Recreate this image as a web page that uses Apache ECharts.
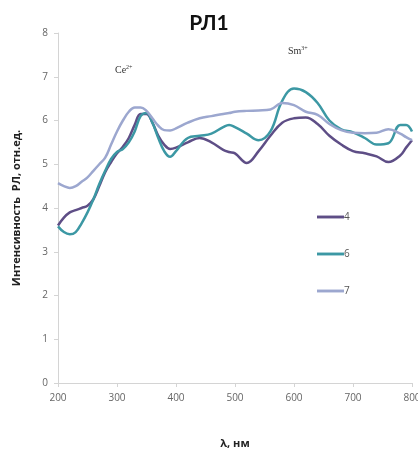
<!DOCTYPE html>
<html><head><meta charset="utf-8">
<script src="https://cdn.jsdelivr.net/npm/echarts@6/dist/echarts.min.js"></script>
<style>html,body{margin:0;padding:0;background:#fff}#c{width:418px;height:450px}</style>
</head><body><div id="c"></div>
<script>
const wavelengths = [200,210,220,230,240,250,260,270,280,290,300,310,320,330,340,350,360,370,380,390,400,420,440,460,480,490,500,520,540,560,580,600,620,640,660,680,700,720,740,760,780,790,800];
const s4 = [3.6,3.78,3.9,3.95,4.0,4.05,4.2,4.5,4.82,5.05,5.25,5.4,5.6,5.9,6.15,6.15,5.95,5.65,5.45,5.35,5.38,5.5,5.6,5.5,5.33,5.28,5.25,5.03,5.3,5.65,5.95,6.05,6.07,5.92,5.65,5.45,5.3,5.25,5.18,5.05,5.2,5.38,5.55];
const s6 = [3.58,3.45,3.4,3.45,3.65,3.9,4.2,4.55,4.85,5.12,5.28,5.35,5.5,5.75,6.1,6.17,5.95,5.6,5.3,5.17,5.3,5.6,5.65,5.7,5.85,5.9,5.85,5.7,5.55,5.75,6.45,6.73,6.65,6.4,6.0,5.8,5.73,5.6,5.45,5.48,5.9,5.9,5.75];
const s7 = [4.57,4.5,4.46,4.5,4.6,4.7,4.85,5.0,5.15,5.45,5.75,6.0,6.2,6.3,6.3,6.22,6.05,5.88,5.78,5.77,5.82,5.95,6.05,6.1,6.15,6.17,6.2,6.22,6.23,6.25,6.4,6.35,6.2,6.13,5.92,5.78,5.72,5.71,5.72,5.8,5.7,5.62,5.55];
const seriesNames = ['4','6','7'];
const colors = ['#5E4E86','#3C98A4','#9CA7CF'];
const xTicks = [200,300,400,500,600,700,800];
const yTicks = [0,1,2,3,4,5,6,7,8];

const zip = (ys) => wavelengths.map((w,i)=>[w,ys[i]]);
const chart = echarts.init(document.getElementById('c'));
chart.setOption({
  animation:false,
  title:{text:'РЛ1',left:204,top:8,textAlign:'center',textStyle:{fontFamily:'Lato',fontSize:21,fontWeight:'bold',color:'#111'}},
  grid:{left:58,right:6,top:33,bottom:67,containLabel:false,outerBoundsMode:'none'},
  legend:{orient:'vertical',left:312,top:205,itemWidth:27,itemHeight:14,itemGap:23,
    icon:'path://M0,6 L28,6 L28,9 L0,9 Z',
    textStyle:{fontFamily:'Open Sans',fontSize:10,color:'#555',padding:[0,0,0,-5],lineHeight:14},
    data:seriesNames},
  xAxis:{type:'value',min:xTicks[0],max:xTicks[xTicks.length-1],interval:100,
    name:'λ, нм',nameLocation:'middle',nameGap:55,
    nameTextStyle:{fontFamily:'Open Sans',fontSize:11,fontWeight:'bold',color:'#222'},
    axisLine:{show:true,lineStyle:{color:'#D4D4D4'}},
    axisTick:{show:true,inside:false,length:4,lineStyle:{color:'#D4D4D4'}},
    axisLabel:{fontFamily:'Open Sans',fontSize:10,color:'#666',margin:10},
    splitLine:{show:false}},
  yAxis:{type:'value',min:yTicks[0],max:yTicks[yTicks.length-1],interval:1,
    name:'Интенсивность  РЛ, отн.ед.',nameLocation:'middle',nameGap:36,
    nameTextStyle:{fontFamily:'Open Sans',fontSize:11,fontWeight:'bold',color:'#222'},
    axisLine:{show:true,lineStyle:{color:'#D4D4D4'}},
    axisTick:{show:true,inside:false,length:4,lineStyle:{color:'#D4D4D4'}},
    axisLabel:{fontFamily:'Open Sans',fontSize:10,color:'#666',margin:10},
    splitLine:{show:false}},
  graphic:[
    {type:'text',left:115,top:64,style:{text:'{b|Ce}{s|2+}',rich:{b:{fontFamily:'Liberation Serif',fontSize:10,fill:'#333'},s:{fontFamily:'Liberation Serif',fontSize:6,fill:'#333',verticalAlign:'top',padding:[0,0,6,0]}}}},
    {type:'text',left:288,top:45,style:{text:'{b|Sm}{s|3+}',rich:{b:{fontFamily:'Liberation Serif',fontSize:10,fill:'#333'},s:{fontFamily:'Liberation Serif',fontSize:6,fill:'#333',verticalAlign:'top',padding:[0,0,6,0]}}}}
  ],
  series:[s4,s6,s7].map((d,i)=>({
    name:seriesNames[i],type:'line',smooth:0.4,showSymbol:false,
    data:zip(d),lineStyle:{width:2.5,color:colors[i]},itemStyle:{color:colors[i]}
  }))
});
</script></body></html>
